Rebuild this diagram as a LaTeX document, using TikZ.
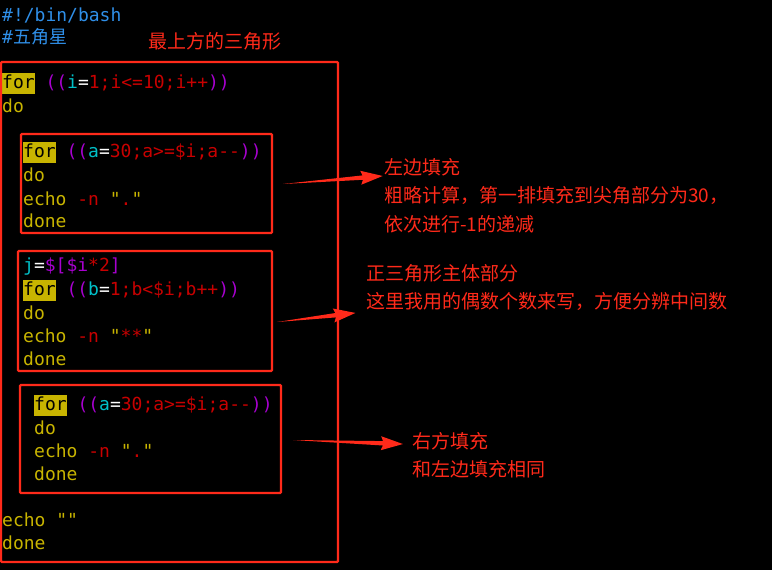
\documentclass[tikz,border=0pt]{standalone}
\usepackage{fontspec}
\setmonofont{DejaVu Sans Mono}
\newfontfamily\cjk{Noto Sans CJK SC}
\definecolor{sb}{HTML}{2F8FE8}
\definecolor{ky}{HTML}{C8B400}
\definecolor{cy}{HTML}{00C0C8}
\definecolor{pu}{HTML}{A800D0}
\definecolor{rd}{HTML}{C80000}
\definecolor{br}{HTML}{FF2A1A}
\newcommand\kwx[1]{{\setlength\fboxsep{0pt}\colorbox{ky}{\rule[-5pt]{0pt}{21pt}\textcolor{black}{#1}}}}
\newcommand\cY[1]{\textcolor{ky}{#1}}
\newcommand\cC[1]{\textcolor{cy}{#1}}
\newcommand\cP[1]{\textcolor{pu}{#1}}
\newcommand\cR[1]{\textcolor{rd}{#1}}
\newcommand\cW[1]{\textcolor{white}{#1}}
\tikzset{
 code/.style={anchor=west,inner sep=0pt,font=\ttfamily\fontsize{18}{22}\selectfont},
 lbl/.style={anchor=west,inner sep=0pt,text=br,font=\cjk\fontsize{19}{23}\selectfont},
 box/.style={draw=br,line width=2.4pt,rounded corners=1pt},
 pics/warrow/.style={code={\fill[br] (0pt,0pt) -- (#1pt-20pt,2.2pt) -- (#1pt-22pt,7pt) -- (#1pt,0pt) -- (#1pt-22pt,-7pt) -- (#1pt-20pt,-2.2pt) -- cycle;}}
}
\begin{document}
\begin{tikzpicture}[x=1pt,y=-1pt]
\fill[black] (0,0) rectangle (772,570);
\useasboundingbox (0,0) rectangle (772,570);
\node[code,text=sb] (l1) at (2,15) {\#!/bin/bash};
\node[code,text=sb] (l2) at (2,37) {\#{\cjk\fontsize{18}{22}\selectfont 五角星}};
\node[lbl] (t0) at (148,41) {最上方的三角形};
\node[code] (l3) at (2,83) {\kwx{for} \cP{((}\cC{i}\cW{=}\cR{1;i<=10;i++}\cP{))}};
\node[code] (l4) at (2,106) {\cY{do}};
\node[code] (a1) at (23,152) {\kwx{for} \cP{((}\cC{a}\cW{=}\cR{30;a>=\$i;a--}\cP{))}};
\node[code] (a2) at (23,175) {\cY{do}};
\node[code] (a3) at (23,199) {\cY{echo} \cR{-n} \cY{"}\cR{.}\cY{"}};
\node[code] (a4) at (23,221) {\cY{done}};
\node[code] (b1) at (23,267) {\cC{j}\cW{=}\cP{\$[\$i}\cR{*2}\cP{]}};
\node[code] (b2) at (23,290) {\kwx{for} \cP{((}\cC{b}\cW{=}\cR{1;b<\$i;b++}\cP{))}};
\node[code] (b3) at (23,313) {\cY{do}};
\node[code] (b4) at (23,336) {\cY{echo} \cR{-n} \cY{"}\cR{**}\cY{"}};
\node[code] (b5) at (23,359) {\cY{done}};
\node[code] (c1) at (34,405) {\kwx{for} \cP{((}\cC{a}\cW{=}\cR{30;a>=\$i;a--}\cP{))}};
\node[code] (c2) at (34,428) {\cY{do}};
\node[code] (c3) at (34,451) {\cY{echo} \cR{-n} \cY{"}\cR{.}\cY{"}};
\node[code] (c4) at (34,474) {\cY{done}};
\node[code] (l5) at (2,520) {\cY{echo ""}};
\node[code] (l6) at (2,543) {\cY{done}};
\draw[box] (1,62) rectangle (338,562);
\draw[box] (21,134) rectangle (272,233);
\draw[box] (18,251) rectangle (272,371);
\draw[box] (20,385) rectangle (281,493);
\node[lbl] (n1) at (384,167) {左边填充};
\node[lbl] (n2) at (384,195) {粗略计算，第一排填充到尖角部分为30，};
\node[lbl] (n3) at (384,224) {依次进行-1的递减};
\node[lbl] (m1) at (366,273) {正三角形主体部分};
\node[lbl] (m2) at (366,301) {这里我用的偶数个数来写，方便分辨中间数};
\node[lbl] (r1) at (412,441) {右方填充};
\node[lbl] (r2) at (412,469) {和左边填充相同};
\coordinate (e1) at (283,184);
\coordinate (e2) at (277,322);
\coordinate (e3) at (293,440);
\pic[shift={(e1)},rotate=4.6] {warrow=100};
\pic[shift={(e2)},rotate=6.6] {warrow=79};
\pic[shift={(e3)},rotate=-2.1] {warrow=110};
\end{tikzpicture}
\end{document}
